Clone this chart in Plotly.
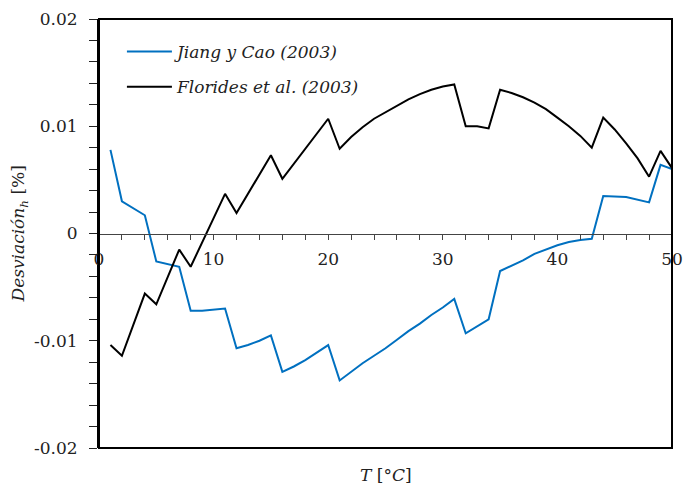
import plotly.graph_objects as go

# Data
t_jiang = [1, 2, 4, 5, 7, 8, 9, 10, 11, 12, 13, 14, 15, 16, 17, 18, 19, 20, 21, 22, 23, 24, 25,
           26, 27, 28, 29, 30, 31, 32, 34, 35, 36, 37, 38, 39, 40, 41, 42, 43, 44, 46, 48, 49, 50]
v_jiang = [0.0078, 0.0030, 0.0017, -0.0026, -0.0031, -0.0072, -0.0072, -0.0071, -0.0070, -0.0107,
           -0.0104, -0.0100, -0.0095, -0.0129, -0.0124, -0.0118, -0.0111, -0.0104, -0.0137, -0.0129,
           -0.0121, -0.0114, -0.0107, -0.0099, -0.0091, -0.0084, -0.0076, -0.0069, -0.0061, -0.0093,
           -0.0080, -0.0035, -0.0030, -0.0025, -0.0019, -0.0015, -0.0011, -0.0008, -0.0006, -0.0005,
           0.0035, 0.0034, 0.0029, 0.0064, 0.0060]

t_flor = [1, 2, 4, 5, 7, 8, 11, 12, 15, 16, 20, 21, 22, 23, 24, 25, 26, 27, 28, 29, 30, 31, 32, 33,
          34, 35, 36, 37, 38, 39, 40, 41, 42, 43, 44, 45, 46, 47, 48, 49, 50]
v_flor = [-0.0104, -0.0114, -0.0056, -0.0066, -0.0015, -0.0031, 0.0037, 0.0019, 0.0073, 0.0051,
          0.0107, 0.0079, 0.0090, 0.0099, 0.0107, 0.0113, 0.0119, 0.0125, 0.0130, 0.0134, 0.0137,
          0.0139, 0.0100, 0.0100, 0.0098, 0.0134, 0.0131, 0.0127, 0.0122, 0.0116, 0.0108, 0.0100,
          0.0091, 0.0080, 0.0108, 0.0097, 0.0084, 0.0070, 0.0053, 0.0077, 0.0061]

names = ["<i>Jiang y Cao (2003)</i>", "<i>Florides et al. (2003)</i>"]
y_tickvals = [-0.02, -0.01, 0, 0.01, 0.02]
y_ticktext = ["-0.02", "-0.01", "0", "0.01", "0.02"]
x_tickvals = [0, 10, 20, 30, 40, 50]
x_ticktext = ["0", "10", "20", "30", "40", "50"]

FONT = "DejaVu Serif, serif"

fig = go.Figure()
fig.add_trace(go.Scatter(x=t_jiang, y=v_jiang, mode="lines", name=names[0], legendgroup="a",
                         line=dict(color="#0070C0", width=2)))
fig.add_trace(go.Scatter(x=t_flor, y=v_flor, mode="lines", name=names[1], legendgroup="b",
                         line=dict(color="#000000", width=2)))

tickfont = dict(family=FONT, size=17, color="#222")

fig.update_layout(
    width=683, height=489,
    margin=dict(l=99, r=11, t=19, b=41, autoexpand=False),
    paper_bgcolor="white", plot_bgcolor="white",
    font=dict(family=FONT, size=17, color="#222"),
    showlegend=True,
    legend=dict(x=0.04, y=0.965, xanchor="left", yanchor="top", bgcolor="rgba(0,0,0,0)",
                font=dict(family=FONT, size=17, color="#222"), tracegroupgap=10,
                itemwidth=45),
    xaxis=dict(range=[0, 50], anchor="free", position=0.5, showgrid=False, zeroline=False,
               automargin=False, tickfont=tickfont,
               showline=True, linecolor="#444", linewidth=1,
               tickmode="array", tickvals=x_tickvals, ticktext=x_ticktext,
               ticks="outside", ticklen=5, tickcolor="#444", tickwidth=1, ticklabelstandoff=5,
               minor=dict(dtick=2, ticks="outside", ticklen=5, tickcolor="#444", tickwidth=1)),
    yaxis=dict(range=[-0.02, 0.02], showgrid=False, zeroline=False, automargin=False,
               tickfont=tickfont,
               showline=True, linecolor="black", linewidth=2,
               tickmode="array", tickvals=y_tickvals, ticktext=y_ticktext,
               ticks="outside", ticklen=8, tickcolor="#222", tickwidth=1, ticklabelstandoff=8,
               minor=dict(dtick=0.002, ticks="outside", ticklen=8, tickcolor="#222", tickwidth=1)),
    shapes=[dict(type="rect", xref="paper", yref="paper", x0=0, x1=1, y0=0, y1=1,
                 line=dict(color="black", width=2), fillcolor="rgba(0,0,0,0)", layer="above")],
    annotations=[
        dict(text="<i>T</i> [°<i>C</i>]", xref="paper", yref="paper", x=0.5, y=-0.063,
             xanchor="center", yanchor="middle", showarrow=False,
             font=dict(family=FONT, size=17, color="#222")),
        dict(text="<i>Desviación</i><sub><i>h</i></sub> [%]", xref="paper", yref="paper",
             x=-0.138, y=0.5, xanchor="center", yanchor="middle", textangle=-90,
             showarrow=False, font=dict(family=FONT, size=17, color="#222")),
    ],
)

fig.write_html("out.html")
